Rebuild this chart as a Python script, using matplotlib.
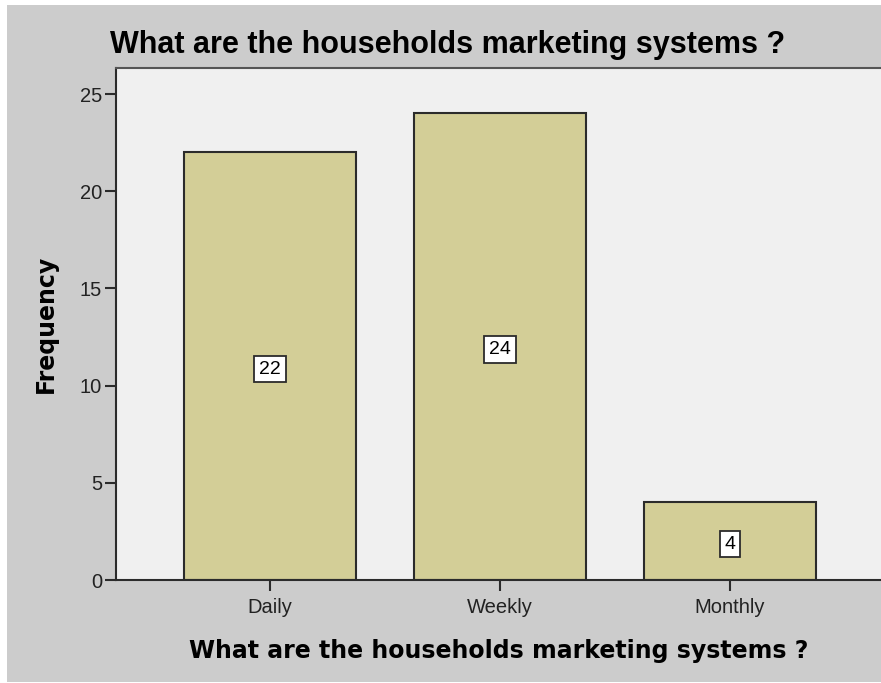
import matplotlib
matplotlib.use("Agg")
import matplotlib.pyplot as plt
from matplotlib.patches import Rectangle

# Frequency table for the household marketing question
categories = ["Daily", "Weekly", "Monthly"]
counts = [22, 24, 4]
y_ticks = [0, 5, 10, 15, 20, 25]

QUESTION = "What are the households marketing systems ?"

BAR_COLOR = "#d3ce97"
EDGE_COLOR = "#2b2b2b"
PANEL_BG = "#cccccc"
PLOT_BG = "#f0f0f0"

plt.rcParams["font.family"] = ["Liberation Sans", "DejaVu Sans"]

fig = plt.figure(figsize=(8.81, 6.83), dpi=100, facecolor="white")

# gray chart panel inside a thin white frame
fig.patches.append(Rectangle((7 / 881, 1 / 683), 1 - 7 / 881, 1 - 6 / 683,
                             transform=fig.transFigure, facecolor=PANEL_BG,
                             edgecolor="none", zorder=-5))

ax = fig.add_axes([116 / 881, 103 / 683, 765 / 881, 512 / 683])
ax.set_facecolor(PLOT_BG)

x = list(range(len(categories)))
ax.bar(x, counts, width=0.748, color=BAR_COLOR, edgecolor=EDGE_COLOR,
       linewidth=1.5, zorder=2)

# count labels in white boxes, roughly halfway up each bar
for xi, c in zip(x, counts):
    ax.text(xi, c / 2 - 0.15, str(c), ha="center", va="center", fontsize=14,
            zorder=3,
            bbox=dict(boxstyle="square,pad=0.25", facecolor="white",
                      edgecolor=EDGE_COLOR, linewidth=1.3))

ax.set_xlim(-0.67, 2.657)
ax.set_ylim(0, 26.34)
ax.set_xticks(x)
ax.set_xticklabels(categories, fontsize=14.5, color="#222222")
ax.set_yticks(y_ticks)
ax.set_yticklabels([str(v) for v in y_ticks], fontsize=14.5, color="#222222")
ax.tick_params(axis="both", direction="out", length=8, width=1.5,
               color=EDGE_COLOR, pad=2)
ax.tick_params(axis="x", pad=5)

for side in ("left", "bottom", "top"):
    ax.spines[side].set_color(EDGE_COLOR)
    ax.spines[side].set_linewidth(1.5)
ax.spines["top"].set_color("#555555")
ax.spines["right"].set_visible(False)

ax.set_ylabel("Frequency", fontsize=17, fontweight="bold",
              family=["DejaVu Sans"], labelpad=16)
ax.set_xlabel(QUESTION, fontsize=17, fontweight="bold",
              family=["DejaVu Sans"], labelpad=16)

fig.text(110 / 881, 1 - 45 / 683, QUESTION, fontsize=22, fontweight="bold",
         ha="left", va="center")

fig.savefig("out.png", dpi=100, facecolor=fig.get_facecolor())
